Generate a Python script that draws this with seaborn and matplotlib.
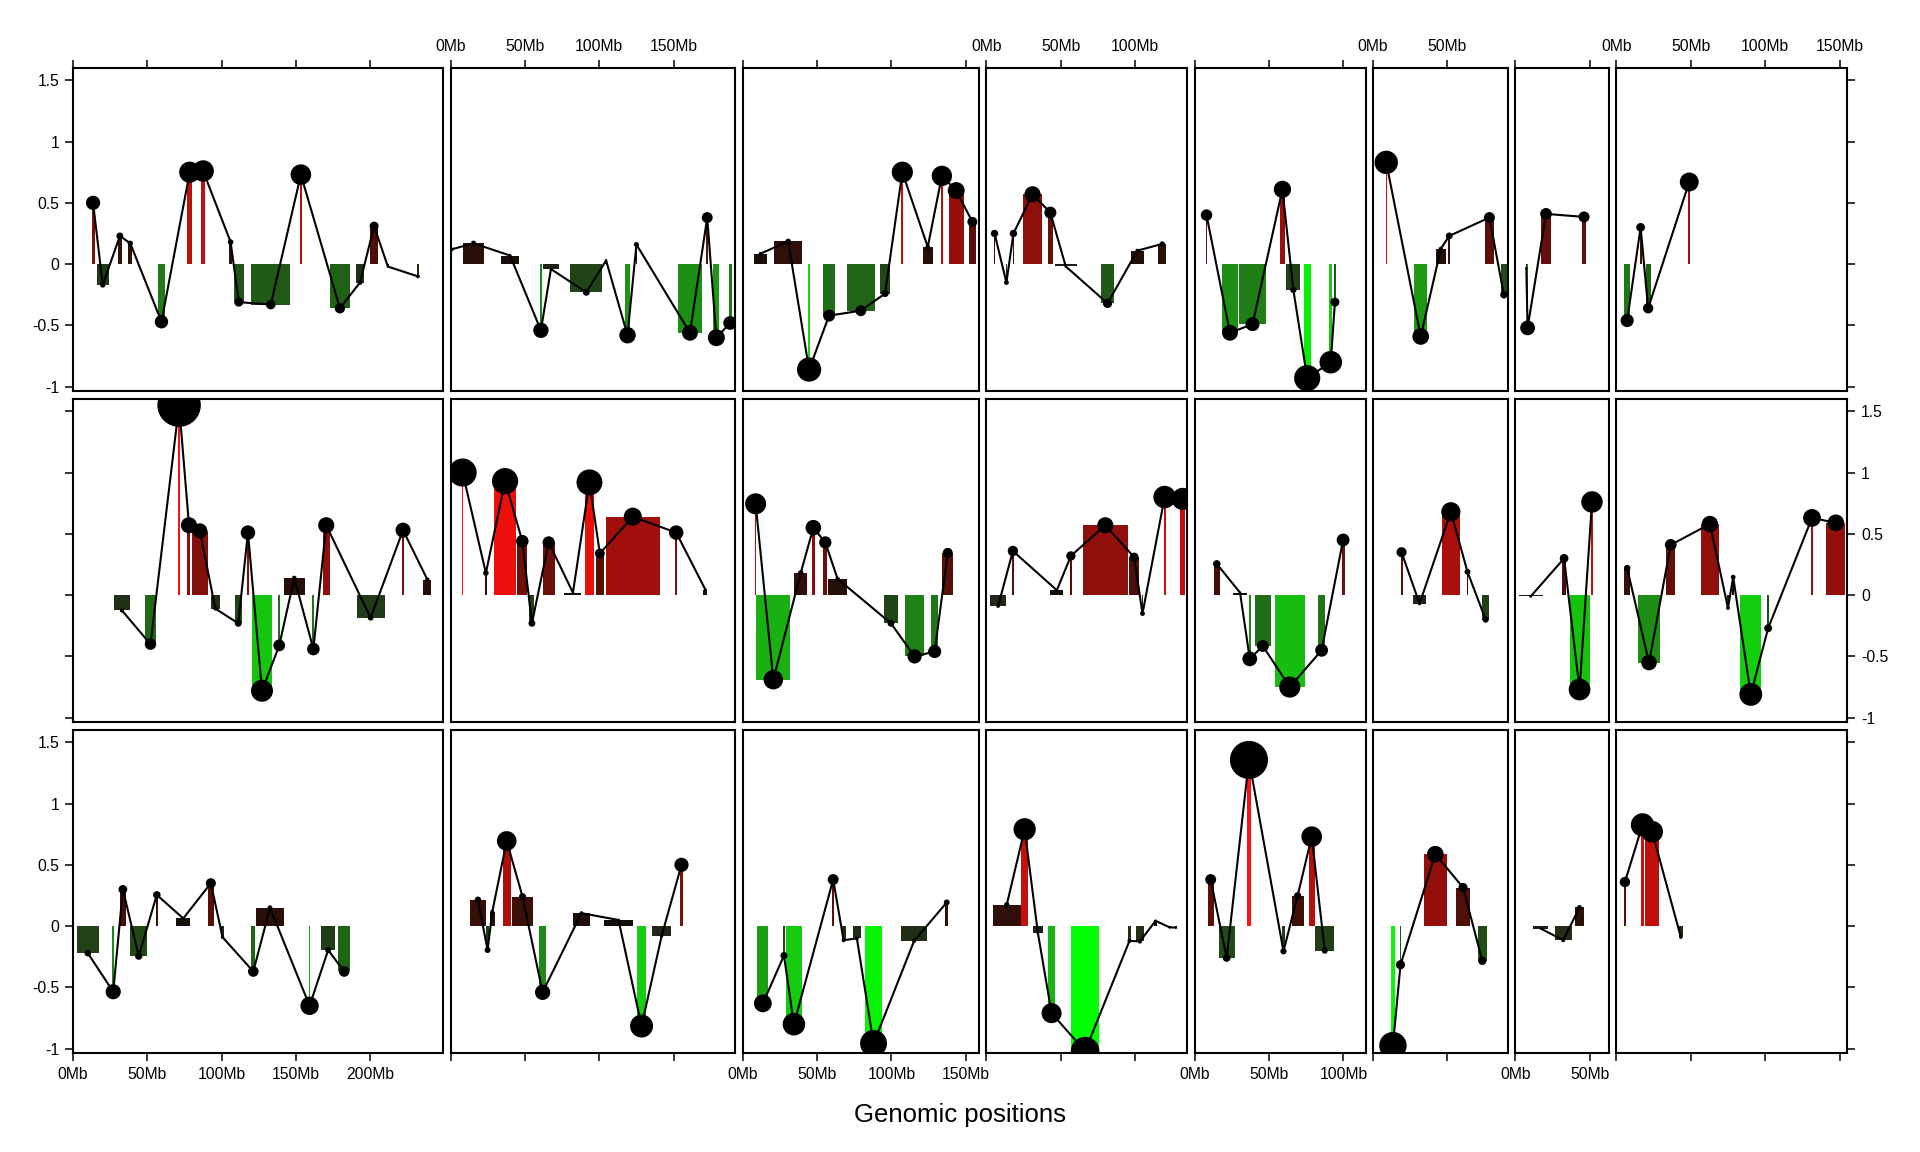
import matplotlib
matplotlib.use("Agg")
import matplotlib.pyplot as plt
import numpy as np
import pandas as pd
import seaborn as sns

# segments per panel: (start Mb, end Mb, log-ratio); the dot sits at the segment middle
r1c1 = [(12.5, 14.5, 0.50), (16, 24, -0.17), (30, 33, 0.23), (37, 40, 0.17), (57, 62, -0.47),
        (77, 80, 0.75), (86, 89, 0.76), (105, 107, 0.18), (108, 115, -0.31), (120, 146, -0.33),
        (152.5, 154, 0.73), (173, 186, -0.36), (190, 196, -0.15), (200, 205, 0.31),
        (211, 212.5, -0.02), (231.5, 232.5, -0.10)]
r1c2 = [(0, 1, 0.12), (8.6, 22.3, 0.17), (34, 46, 0.07), (60, 61.5, -0.54), (62, 73, -0.04),
        (80.6, 102, -0.23), (104, 105.2, 0.03), (117, 121, -0.58), (124.5, 125.5, 0.16),
        (153, 169, -0.56), (172, 173.2, 0.38), (176.7, 180.8, -0.60), (187, 189, -0.48)]
r1c3 = [(7.4, 16.4, 0.085), (21.3, 40, 0.185), (44.2, 45.2, -0.86), (54, 62.3, -0.42),
        (70, 89, -0.38), (92.6, 99, -0.24), (106.8, 108, 0.75), (121, 128, 0.14),
        (133.4, 134.6, 0.72), (138.6, 148.7, 0.60), (152, 157, 0.345)]
r1c4 = [(5, 6, 0.25), (13, 14, -0.15), (17.7, 18.7, 0.25), (24.4, 37.7, 0.57), (41.5, 44.6, 0.42),
        (46, 60.7, -0.018), (77, 86, -0.32), (97, 106, 0.11), (115.6, 121, 0.165)]
r1c5 = [(7.3, 8.6, 0.40), (18.2, 29.2, -0.56), (29.8, 48, -0.49), (57.3, 60.7, 0.61),
        (61.7, 71, -0.21), (73.4, 77.9, -0.93), (90.5, 92.5, -0.80), (93.6, 95, -0.31)]
r1c6 = [(8.5, 9.3, 0.83), (27.8, 36.4, -0.59), (42.2, 49, 0.125), (50.5, 52, 0.23),
        (75, 81.6, 0.38), (85.8, 90.2, -0.25)]
r1c7 = [(7.2, 7.8, -0.035), (8.1, 8.6, -0.52), (17.7, 23.8, 0.41), (44.8, 47.8, 0.385)]
r1c8 = [(5.2, 9.2, -0.46), (15.5, 17, 0.30), (19.7, 22.9, -0.36), (48.4, 49.5, 0.67)]

r2c1 = [(27.7, 38.1, -0.125), (48.2, 56, -0.40), (70.7, 72, 1.55), (77, 79, 0.57), (80, 90.6, 0.525),
        (92.6, 98.8, -0.11), (108.9, 113.4, -0.23), (117, 118.3, 0.51), (120.6, 133.6, -0.78),
        (137.9, 139.5, -0.41), (141.8, 155.8, 0.14), (161, 162.3, -0.44), (167.9, 172.7, 0.57),
        (190.7, 209.6, -0.185), (221.3, 222.6, 0.53), (235.7, 240.9, 0.127)]
r2c2 = [(7.5, 8.7, 1.0), (23.1, 24.4, 0.18), (29.3, 44, 0.93), (45, 51.5, 0.44), (53, 56.4, -0.23),
        (62, 70, 0.43), (76.6, 88, 0.02), (90.6, 96.2, 0.92), (97.8, 103, 0.34),
        (104.3, 140.8, 0.64), (151, 152.5, 0.51), (170, 172.7, 0.045)]
r2c3 = [(8.2, 9.3, 0.745), (9.3, 32, -0.69), (34.8, 43.3, 0.18), (46.7, 48.4, 0.55),
        (54.3, 56.9, 0.43), (57.5, 70.2, 0.133), (94.8, 104.7, -0.23), (109, 122.3, -0.50),
        (127, 131.3, -0.46), (134.4, 141.5, 0.345)]
r2c4 = [(2.5, 13.3, -0.09), (17, 18.7, 0.36), (43, 51.8, 0.04), (56, 57.7, 0.32), (65, 95, 0.57),
        (96.2, 102.5, 0.31), (104.5, 105.5, -0.15), (119.3, 120.5, 0.80), (130.5, 133.6, 0.785)]
r2c5 = [(13, 16.7, 0.255), (26, 35, 0.02), (36.5, 37.6, -0.52), (40.5, 51.2, -0.415),
        (54, 73.9, -0.75), (83.2, 87.5, -0.45), (98.8, 100.8, 0.45)]
r2c6 = [(18.5, 19.9, 0.35), (26.9, 35.7, -0.07), (46.3, 58.4, 0.68), (63, 64.1, 0.19),
        (73.2, 78.3, -0.20)]
r2c7 = [(2.3, 18.5, -0.011), (31.5, 34.3, 0.30), (36.6, 50, -0.77), (51, 52.3, 0.76)]
r2c8 = [(5.1, 9.3, 0.22), (14.4, 29.4, -0.55), (33.6, 39.4, 0.41), (56.7, 69, 0.58),
        (74.5, 75.5, -0.105), (78, 79, 0.147), (83.4, 97.3, -0.81), (101.5, 102.5, -0.27),
        (130.8, 132.2, 0.63), (141, 154, 0.59)]

r3c1 = [(2.6, 17.3, -0.22), (26.4, 27.7, -0.535), (31.6, 35.5, 0.30), (38.5, 49.9, -0.245),
        (55.7, 57, 0.255), (69.4, 78.9, 0.063), (90.6, 94.8, 0.35), (99.4, 101.7, -0.09),
        (120, 122.5, -0.37), (123.2, 141.8, 0.15), (158.5, 159.7, -0.65), (166.9, 176.3, -0.195),
        (178.3, 186.4, -0.37)]
r3c2 = [(13, 23.8, 0.215), (23.8, 26, -0.195), (26.4, 29.7, 0.117), (35, 40.5, 0.695),
        (41.4, 55.4, 0.24), (59.3, 64.5, -0.54), (82.1, 93.9, 0.106), (103.3, 122.6, 0.05),
        (125.5, 131.4, -0.815), (135.6, 148.3, -0.08), (154.2, 156.4, 0.50)]
r3c3 = [(9.9, 17.3, -0.63), (27.3, 28.3, -0.24), (29.4, 39.6, -0.80), (60.4, 61.4, 0.38),
        (66.5, 69.3, -0.115), (73.9, 79.8, -0.10), (82.4, 93.7, -0.957), (106.4, 124.3, -0.12),
        (136.1, 138.4, 0.193)]
r3c4 = [(4.2, 23.2, 0.174), (23.5, 28, 0.79), (31.1, 38.2, -0.055), (41.6, 46.1, -0.71),
        (57.2, 75.6, -1.02), (95.5, 97, -0.12), (100.5, 106, -0.125), (113, 114.6, 0.043),
        (122.5, 124, -0.01), (127, 128, -0.012)]
r3c5 = [(8.8, 12.7, 0.38), (16.1, 26.9, -0.26), (35.1, 37.9, 1.356), (59, 60.4, -0.205),
        (65.1, 73.3, 0.247), (76.7, 80.7, 0.73), (81.2, 93.7, -0.20)]
r3c6 = [(12, 14.8, -0.975), (18, 19, -0.315), (34, 49.8, 0.587), (55.6, 65.5, 0.315),
        (70.6, 76.4, -0.283)]
r3c7 = [(12.3, 22.2, -0.02), (26.6, 38, -0.115), (40.5, 46, 0.152)]
r3c8 = [(5.1, 6.3, 0.36), (16.7, 18.3, 0.826), (19.5, 28.5, 0.77), (41.9, 44.7, -0.09)]

col_len = [249.0, 191.5, 159.0, 135.2, 115.0, 90.7, 63.2, 155.3]
x_ticks = [0, 50, 100, 150, 200]
y_ticks = [-1, -0.5, 0, 0.5, 1, 1.5]
y_labels = ["-1", "-0.5", "0", "0.5", "1", "1.5"]

rows = [[r1c1, r1c2, r1c3, r1c4, r1c5, r1c6, r1c7, r1c8],
        [r2c1, r2c2, r2c3, r2c4, r2c5, r2c6, r2c7, r2c8],
        [r3c1, r3c2, r3c3, r3c4, r3c5, r3c6, r3c7, r3c8]]


def seg_colour(v):
    t = min(1.0, abs(v))
    if v >= 0:
        return (0.04 + 0.96 * t ** 1.1, 0.06, 0.03 + 0.02 * t)
    return (0.13 * (1 - t ** 4), 0.1 + 0.9 * t ** 1.15, 0.09 * (1 - t ** 4))


sns.set_theme(style="white")
plt.rcParams["font.family"] = ["Liberation Sans", "DejaVu Sans"]

W, H = 1920, 1152
fig = plt.figure(figsize=(W / 100, H / 100), dpi=100)

px_mb = 1.487
gap = 7.3
row_top = [68, 399, 730]
row_h = 323
area_max = 1.6 ** 2

for r, panels in enumerate(rows):
    x0 = 73.0
    for c, segs in enumerate(panels):
        L = col_len[c]
        w = L * px_mb
        ax = fig.add_axes([x0 / W, 1 - (row_top[r] + row_h) / H, w / W, row_h / H])
        x0 += w + gap

        df = pd.DataFrame(segs, columns=["start", "end", "v"])
        df["mid"] = (df["start"] + df["end"]) / 2
        df["area"] = df["v"] ** 2

        ax.bar(df["start"], df["v"], width=df["end"] - df["start"], align="edge",
               color=[seg_colour(v) for v in df["v"]], linewidth=0, zorder=1)
        sns.lineplot(data=df, x="mid", y="v", sort=False, estimator=None,
                     color="black", linewidth=1.5, ax=ax, zorder=2)
        sns.scatterplot(data=df, x="mid", y="v", size="area", sizes=(3, 1045),
                        size_norm=(0, area_max), color="black", linewidth=0,
                        legend=False, ax=ax, zorder=3)

        ax.set_xlim(0, L)
        ax.set_ylim(-1.035, 1.6)
        ax.set_xlabel("")
        ax.set_ylabel("")
        for sp in ax.spines.values():
            sp.set_visible(True)
            sp.set_color("black")
            sp.set_linewidth(1.5)

        xt = [t for t in x_ticks if t <= L]
        ax.set_xticks(xt)
        ax.set_xticklabels([f"{t}Mb" for t in xt])
        ax.tick_params(axis="x", direction="out", length=5.8, width=1.1, pad=4,
                       labelsize=11.3, colors="black",
                       top=(r == 0), bottom=(r == 2),
                       labeltop=(r == 0 and c % 2 == 1),
                       labelbottom=(r == 2 and c % 2 == 0))
        if c in (0, 7):
            ax.set_yticks(y_ticks)
            ax.set_yticklabels(y_labels)
        else:
            ax.set_yticks([])
        ax.tick_params(axis="y", direction="out", length=5.8, width=1.1, pad=4,
                       labelsize=11.3, colors="black",
                       left=(c == 0), right=(c == 7),
                       labelleft=(c == 0 and r != 1),
                       labelright=(c == 7 and r == 1))

fig.text(960 / W, 1 - 1122 / H, "Genomic positions", ha="center", va="baseline",
         fontsize=18.5, color="black")

fig.savefig("out.png", dpi=100, facecolor="white")
